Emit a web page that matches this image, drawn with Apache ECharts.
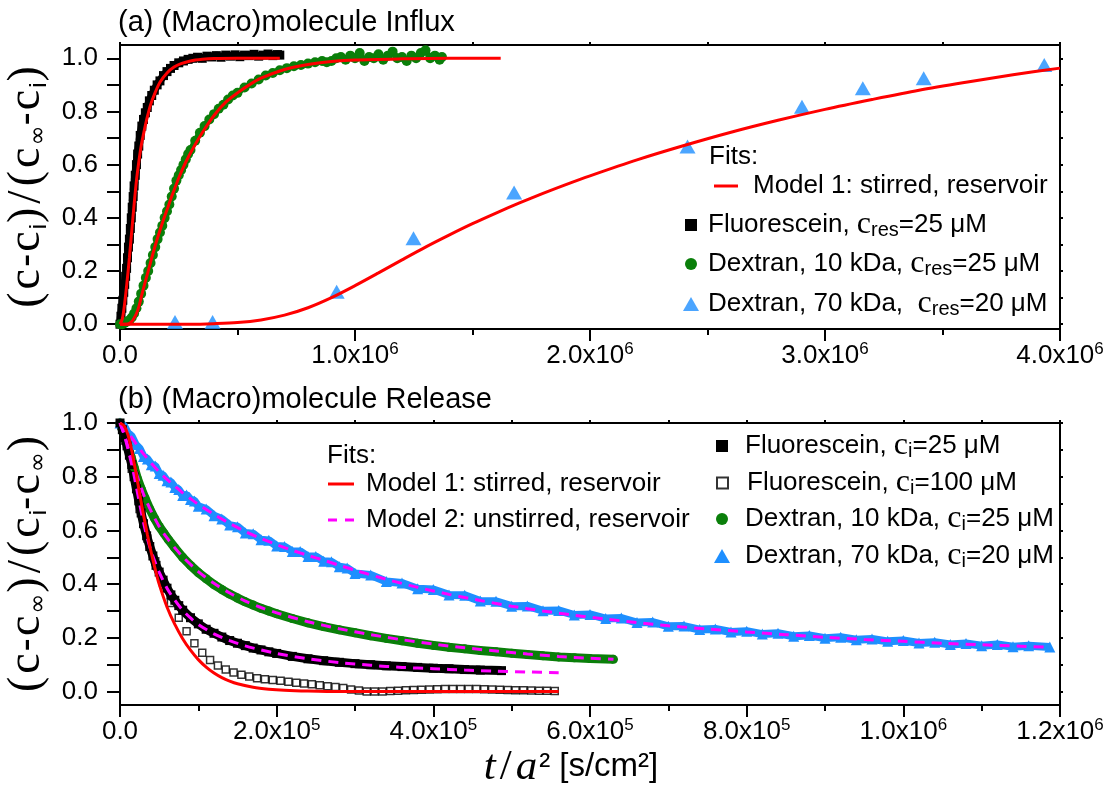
<!DOCTYPE html>
<html><head><meta charset="utf-8">
<script src="https://cdn.jsdelivr.net/npm/echarts@6/dist/echarts.min.js"></script>
<style>html,body{margin:0;padding:0;background:#fff}#c{width:1111px;height:785px}</style>
</head><body><div id="c"></div>
<script>
// ---------------- DATA ----------------
// Panel (a): t/a^2 in units of 1e6 s/cm^2
const topXTickLabels = ['0.0', '1.0x10^6', '2.0x10^6', '3.0x10^6', '4.0x10^6'];
const botXTickLabels = ['0.0', '2.0x10^5', '4.0x10^5', '6.0x10^5', '8.0x10^5', '1.0x10^6', '1.2x10^6'];
const yTickLabels = ['0.0', '0.2', '0.4', '0.6', '0.8', '1.0'];
const yTickValues = [0, 0.2, 0.4, 0.6, 0.8, 1.0];
const yMinorValues = [0, 0.1, 0.2, 0.3, 0.4, 0.5, 0.6, 0.7, 0.8, 0.9, 1.0];

const fluorInflux = [[0,0],[0.004,0.03],[0.008,0.06],[0.012,0.09],[0.016,0.12],[0.02,0.15],[0.024,0.18],[0.028,0.21],[0.032,0.25],[0.036,0.29],[0.04,0.32],[0.044,0.36],[0.048,0.4],[0.052,0.44],[0.056,0.48],[0.06,0.52],[0.065,0.56],[0.07,0.6],[0.075,0.64],[0.08,0.67],[0.086,0.71],[0.093,0.745],[0.1,0.77],[0.108,0.795],[0.116,0.815],[0.125,0.84],[0.135,0.86],[0.146,0.88],[0.158,0.9],[0.17,0.915],[0.185,0.935],[0.2,0.95],[0.215,0.962],[0.23,0.973],[0.25,0.983],[0.27,0.99],[0.29,0.996],[0.31,1.0],[0.33,1.004],[0.35,1.0],[0.37,1.008],[0.39,1.005],[0.41,1.01],[0.43,1.004],[0.45,1.012],[0.47,1.008],[0.49,1.013],[0.51,1.006],[0.53,1.012],[0.55,1.01],[0.57,1.015],[0.59,1.008],[0.61,1.012],[0.63,1.016],[0.65,1.01],[0.67,1.014],[0.68,1.012]];
const fitFluorInflux = [[0,0],[0.01,0.02],[0.02,0.08],[0.03,0.16],[0.04,0.25],[0.05,0.35],[0.06,0.45],[0.07,0.54],[0.08,0.61],[0.09,0.67],[0.1,0.715],[0.115,0.775],[0.13,0.825],[0.15,0.872],[0.17,0.91],[0.2,0.945],[0.23,0.967],[0.26,0.98],[0.3,0.99],[0.35,0.996],[0.4,0.999],[0.5,1.0],[0.68,1.0]];
const dex10Influx = [[0,0],[0.01,0],[0.02,0.005],[0.03,0.01],[0.04,0.015],[0.05,0.025],[0.06,0.04],[0.07,0.06],[0.08,0.085],[0.09,0.115],[0.1,0.145],[0.11,0.175],[0.12,0.2],[0.13,0.23],[0.14,0.26],[0.15,0.29],[0.16,0.32],[0.17,0.345],[0.18,0.37],[0.19,0.4],[0.2,0.425],[0.21,0.45],[0.22,0.48],[0.23,0.51],[0.24,0.54],[0.25,0.56],[0.26,0.58],[0.27,0.6],[0.28,0.62],[0.29,0.64],[0.3,0.655],[0.32,0.69],[0.34,0.72],[0.36,0.745],[0.38,0.77],[0.4,0.79],[0.42,0.81],[0.44,0.825],[0.46,0.845],[0.48,0.86],[0.5,0.87],[0.53,0.89],[0.56,0.905],[0.59,0.92],[0.62,0.935],[0.65,0.945],[0.68,0.955],[0.71,0.963],[0.74,0.97],[0.77,0.975],[0.8,0.98],[0.83,0.985],[0.86,0.99],[0.88,0.985],[0.9,0.99],[0.92,1.0],[0.94,1.005],[0.96,0.995],[0.98,1.01],[1.0,1.0],[1.02,1.02],[1.04,0.99],[1.06,1.005],[1.08,1.0],[1.1,1.015],[1.12,0.995],[1.14,1.01],[1.16,1.025],[1.18,1.0],[1.2,1.005],[1.22,0.99],[1.24,1.01],[1.26,1.0],[1.28,1.02],[1.3,1.03],[1.32,1.0],[1.34,1.01],[1.36,0.995],[1.37,1.005]];
const fitDex10Influx = [[0,0],[0.03,0],[0.05,0.01],[0.07,0.04],[0.08,0.065],[0.09,0.1],[0.1,0.135],[0.12,0.2],[0.14,0.265],[0.16,0.325],[0.18,0.38],[0.2,0.43],[0.22,0.48],[0.25,0.55],[0.28,0.61],[0.31,0.66],[0.35,0.72],[0.4,0.785],[0.45,0.835],[0.5,0.87],[0.55,0.9],[0.6,0.925],[0.7,0.958],[0.8,0.977],[0.9,0.988],[1.0,0.994],[1.2,0.998],[1.4,1.0],[1.62,1.0]];
const dex70Influx = [[0.234,0.008],[0.394,0.008],[0.922,0.122],[1.249,0.323],[1.677,0.495],[2.415,0.668],[2.902,0.818],[3.161,0.887],[3.42,0.925],[3.933,0.975]];
const fitDex70Influx = [[0,0],[0.3,0],[0.4,0.002],[0.5,0.006],[0.6,0.016],[0.7,0.034],[0.8,0.062],[0.9,0.1],[1.0,0.145],[1.1,0.193],[1.2,0.242],[1.3,0.29],[1.4,0.335],[1.5,0.378],[1.6,0.418],[1.7,0.456],[1.8,0.492],[1.9,0.526],[2.0,0.558],[2.2,0.618],[2.4,0.672],[2.6,0.722],[2.8,0.767],[3.0,0.808],[3.2,0.845],[3.4,0.88],[3.6,0.91],[3.8,0.938],[4.0,0.963]];

// Panel (b): t/a^2 in units of 1e5 s/cm^2
const fluor25Release = [[0,1.0],[0.03,0.975],[0.06,0.945],[0.09,0.915],[0.12,0.88],[0.15,0.845],[0.18,0.8],[0.21,0.755],[0.24,0.71],[0.27,0.665],[0.3,0.625],[0.34,0.58],[0.38,0.54],[0.42,0.505],[0.46,0.47],[0.5,0.445],[0.55,0.415],[0.6,0.385],[0.65,0.36],[0.7,0.34],[0.75,0.32],[0.8,0.303],[0.9,0.275],[1.0,0.252],[1.1,0.232],[1.2,0.217],[1.3,0.203],[1.4,0.19],[1.5,0.18],[1.6,0.171],[1.7,0.162],[1.8,0.155],[1.9,0.148],[2.0,0.142],[2.2,0.131],[2.4,0.122],[2.6,0.115],[2.8,0.109],[3.0,0.104],[3.2,0.1],[3.4,0.096],[3.6,0.093],[3.8,0.09],[4.0,0.087],[4.2,0.085],[4.4,0.082],[4.6,0.08],[4.87,0.078]];
const fluor100Release = [[0.05,0.935],[0.15,0.83],[0.25,0.68],[0.35,0.57],[0.45,0.485],[0.55,0.405],[0.65,0.33],[0.75,0.275],[0.85,0.225],[0.95,0.18],[1.05,0.145],[1.15,0.118],[1.25,0.097],[1.35,0.082],[1.45,0.071],[1.55,0.063],[1.65,0.056],[1.75,0.05],[1.85,0.046],[1.95,0.043],[2.05,0.04],[2.15,0.037],[2.25,0.033],[2.35,0.03],[2.45,0.027],[2.55,0.024],[2.65,0.02],[2.75,0.017],[2.85,0.013],[2.95,0.008],[3.05,0.004],[3.15,0.0],[3.25,0.0],[3.35,0.0],[3.45,0.002],[3.55,0.003],[3.65,0.005],[3.75,0.006],[3.85,0.007],[3.95,0.008],[4.05,0.009],[4.15,0.01],[4.25,0.01],[4.35,0.01],[4.45,0.01],[4.55,0.01],[4.65,0.009],[4.75,0.008],[4.85,0.007],[4.95,0.006],[5.05,0.005],[5.15,0.005],[5.25,0.004],[5.35,0.003],[5.45,0.003],[5.55,0.002]];
const dex10Release = [[0,1.0],[0.03,0.975],[0.06,0.95],[0.1,0.915],[0.14,0.875],[0.18,0.835],[0.22,0.795],[0.27,0.755],[0.32,0.72],[0.38,0.68],[0.44,0.645],[0.5,0.615],[0.56,0.59],[0.62,0.565],[0.7,0.535],[0.8,0.5],[0.9,0.47],[1.0,0.443],[1.1,0.42],[1.2,0.398],[1.3,0.38],[1.4,0.363],[1.5,0.348],[1.6,0.334],[1.7,0.322],[1.8,0.31],[1.9,0.3],[2.0,0.29],[2.2,0.272],[2.4,0.256],[2.6,0.242],[2.8,0.23],[3.0,0.219],[3.2,0.208],[3.4,0.198],[3.6,0.189],[3.8,0.18],[4.0,0.172],[4.2,0.165],[4.4,0.159],[4.6,0.153],[4.8,0.148],[5.0,0.143],[5.2,0.138],[5.4,0.133],[5.6,0.129],[5.8,0.126],[6.0,0.123],[6.3,0.12]];
const dex70Release = [[0,1.0],[0.05,0.99],[0.1,0.962],[0.15,0.95],[0.2,0.92],[0.25,0.905],[0.3,0.875],[0.35,0.866],[0.4,0.845],[0.45,0.84],[0.5,0.812],[0.55,0.805],[0.6,0.785],[0.65,0.78],[0.7,0.76],[0.75,0.752],[0.8,0.73],[0.85,0.732],[0.9,0.715],[0.95,0.71],[1.0,0.69],[1.1,0.68],[1.2,0.655],[1.3,0.643],[1.4,0.62],[1.5,0.614],[1.6,0.59],[1.7,0.588],[1.8,0.565],[1.9,0.563],[2.0,0.542],[2.1,0.54],[2.2,0.522],[2.3,0.522],[2.4,0.503],[2.5,0.503],[2.6,0.485],[2.7,0.483],[2.8,0.465],[2.9,0.46],[3.0,0.44],[3.2,0.434],[3.4,0.41],[3.6,0.404],[3.8,0.383],[4.0,0.38],[4.2,0.36],[4.4,0.359],[4.6,0.337],[4.8,0.336],[5.0,0.318],[5.2,0.319],[5.4,0.301],[5.6,0.302],[5.8,0.285],[6.0,0.287],[6.2,0.272],[6.4,0.274],[6.6,0.257],[6.8,0.259],[7.0,0.243],[7.2,0.244],[7.4,0.231],[7.6,0.233],[7.8,0.222],[8.0,0.225],[8.2,0.214],[8.4,0.217],[8.6,0.206],[8.8,0.209],[9.0,0.199],[9.2,0.202],[9.4,0.193],[9.6,0.196],[9.8,0.187],[10.0,0.19],[10.2,0.181],[10.4,0.184],[10.6,0.175],[10.8,0.179],[11.0,0.171],[11.2,0.175],[11.4,0.167],[11.6,0.171],[11.87,0.166]];
const fit1Release = [[0,1.0],[0.05,0.99],[0.1,0.957],[0.15,0.897],[0.2,0.82],[0.25,0.738],[0.3,0.658],[0.35,0.584],[0.4,0.516],[0.45,0.455],[0.5,0.4],[0.6,0.315],[0.7,0.25],[0.8,0.197],[0.9,0.154],[1.0,0.119],[1.1,0.091],[1.2,0.069],[1.3,0.052],[1.4,0.039],[1.5,0.029],[1.7,0.016],[1.9,0.009],[2.1,0.005],[2.4,0.002],[2.8,0.0],[5.6,0.0]];
const fit2Fluor25 = [[0,1.0],[0.05,0.96],[0.1,0.905],[0.15,0.845],[0.2,0.775],[0.25,0.7],[0.3,0.63],[0.35,0.57],[0.4,0.52],[0.45,0.48],[0.5,0.445],[0.6,0.385],[0.7,0.34],[0.8,0.303],[0.9,0.274],[1.0,0.25],[1.2,0.215],[1.4,0.19],[1.6,0.17],[1.8,0.155],[2.0,0.142],[2.4,0.122],[2.8,0.108],[3.2,0.098],[3.6,0.09],[4.0,0.085],[4.4,0.08],[4.8,0.076],[5.2,0.073],[5.6,0.07]];
const fit2Dex10 = [[0,1.0],[0.05,0.96],[0.1,0.915],[0.2,0.82],[0.3,0.735],[0.4,0.67],[0.5,0.615],[0.6,0.572],[0.7,0.535],[0.8,0.502],[1.0,0.447],[1.2,0.403],[1.4,0.367],[1.6,0.337],[1.8,0.313],[2.0,0.293],[2.4,0.26],[2.8,0.234],[3.2,0.212],[3.6,0.193],[4.0,0.177],[4.4,0.163],[4.8,0.151],[5.2,0.14],[5.6,0.131],[6.0,0.124],[6.3,0.12]];
const fit2Dex70 = [[0,1.0],[0.1,0.965],[0.2,0.925],[0.3,0.885],[0.4,0.85],[0.5,0.818],[0.6,0.79],[0.7,0.765],[0.8,0.74],[0.9,0.718],[1.0,0.697],[1.2,0.66],[1.4,0.626],[1.6,0.596],[1.8,0.57],[2.0,0.547],[2.2,0.526],[2.4,0.507],[2.6,0.489],[2.8,0.47],[3.0,0.452],[3.4,0.418],[3.8,0.388],[4.2,0.362],[4.6,0.339],[5.0,0.318],[5.4,0.3],[5.8,0.284],[6.2,0.27],[6.6,0.257],[7.0,0.245],[7.5,0.233],[8.0,0.222],[8.5,0.212],[9.0,0.202],[9.5,0.194],[10.0,0.187],[10.5,0.18],[11.0,0.174],[11.5,0.169],[11.87,0.165]];

// ---------------- CHART ----------------
const SANS = 'Liberation Sans';
const SERIF = 'Liberation Serif';
const scaleX = (arr, s) => arr.map(p => [p[0] * s, p[1]]);

const N = {
  fit1: 'Model 1: stirred, reservoir',
  fit2: 'Model 2: unstirred, reservoir',
  fT: 'Fluorescein, c_res=25 μM',
  d10T: 'Dextran, 10 kDa, c_res=25 μM',
  d70T: 'Dextran, 70 kDa,  c_res=20 μM',
  f25: 'Fluorescein, c_i=25 μM',
  f100: 'Fluorescein, c_i=100 μM',
  d10R: 'Dextran, 10 kDa, c_i=25 μM',
  d70R: 'Dextran, 70 kDa, c_i=20 μM'
};
const legendFmt = name => name.replace(/c_(res|i)=/, (m, s) => '{c|c}{s|' + s + '}=');

const tickRich = {
  m: {fontFamily: SANS, fontSize: 26, lineHeight: 30, color: '#000'},
  e: {fontFamily: SANS, fontSize: 17, lineHeight: 14, verticalAlign: 'top', color: '#000'}
};
function xFormatter(labels, step) {
  return v => {
    const t = labels[Math.round(v / step)];
    if (t === undefined) return '';
    const parts = t.split('^');
    return parts.length > 1 ? '{m|' + parts[0] + '}{e|' + parts[1] + '}' : '{m|' + parts[0] + '}';
  };
}
const yFormatter = v => {
  const i = yTickValues.findIndex(x => Math.abs(x - v) < 1e-6);
  return i >= 0 ? yTickLabels[i] : '';
};

const axisLineStyle = {show: true, onZero: false, lineStyle: {color: '#000', width: 2}};
const tickStyle = {color: '#000', width: 2};

function xAxes(grid, max, interval, labels, withName) {
  return [{
    gridIndex: grid, type: 'value', min: 0, max: max, interval: interval, position: 'bottom',
    axisLine: axisLineStyle,
    axisTick: {show: true, length: 12, lineStyle: tickStyle},
    minorTick: {show: true, splitNumber: 2, length: 6, lineStyle: tickStyle},
    splitLine: {show: false}, minorSplitLine: {show: false},
    axisLabel: {margin: 12, formatter: xFormatter(labels, interval), rich: tickRich, showMinLabel: true, showMaxLabel: true},
    name: withName ? '{i|t}{r|/}{i|a}{q|²} [s/cm²]' : '',
    nameLocation: 'middle', nameGap: 40,
    nameTextStyle: {fontFamily: SANS, fontSize: 33, color: '#000', lineHeight: 42, padding: [0, 40, 0, 0],
      rich: {i: {fontFamily: SERIF, fontStyle: 'italic', fontSize: 43, lineHeight: 42, padding: [0, 2, 0, 2]},
             r: {fontFamily: SERIF, fontSize: 43, lineHeight: 42, padding: [0, 2, 0, 2]},
             q: {fontFamily: SANS, fontSize: 33, lineHeight: 42}}}
  }, {
    gridIndex: grid, type: 'value', min: 0, max: max, interval: interval, position: 'top',
    axisLine: axisLineStyle,
    axisTick: {show: true, length: 3, lineStyle: tickStyle},
    minorTick: {show: true, splitNumber: 2, length: 3, lineStyle: tickStyle},
    splitLine: {show: false}, axisLabel: {show: false}
  }];
}
const yNameRich = {
  p: {fontFamily: SERIF, fontSize: 46, lineHeight: 48, color: '#000', padding: [0, 1, 0, 1]},
  c: {fontFamily: SERIF, fontSize: 46, lineHeight: 48, color: '#000', padding: [0, 2, 0, 2]},
  h: {fontFamily: SANS, fontSize: 40, lineHeight: 48, color: '#000'},
  sl: {fontFamily: SERIF, fontSize: 48, lineHeight: 48, color: '#000', padding: [0, 3, 0, 3]},
  s: {fontFamily: SANS, fontSize: 24, lineHeight: 22, verticalAlign: 'bottom', color: '#000'},
  o: {fontFamily: 'DejaVu Sans', fontSize: 24, lineHeight: 22, verticalAlign: 'bottom', color: '#000'}
};
function yAxes(grid, min, max, name) {
  return [{
    gridIndex: grid, type: 'value', min: min, max: max, position: 'left',
    axisLine: axisLineStyle,
    axisTick: {show: true, length: 13, lineStyle: tickStyle, customValues: yMinorValues},
    splitLine: {show: false},
    axisLabel: {margin: 22, fontFamily: SANS, fontSize: 26, color: '#000', customValues: yTickValues, formatter: yFormatter},
    name: name, nameLocation: 'middle', nameGap: 68,
    nameTextStyle: {rich: yNameRich, lineHeight: 48}
  }, {
    gridIndex: grid, type: 'value', min: min, max: max, position: 'right',
    axisLine: axisLineStyle,
    axisTick: {show: true, length: 3, lineStyle: tickStyle, customValues: yMinorValues},
    splitLine: {show: false}, axisLabel: {show: false}
  }];
}

const RED = '#ff0000', MAG = '#ff00ff', GREEN = '#0a7f0a', BLUE = '#1e8fff';

function dataLine(name, data, xi, yi, symbol, size, color, width, extra) {
  return Object.assign({
    name: name, type: 'line', xAxisIndex: xi, yAxisIndex: yi, data: data,
    symbol: symbol, symbolSize: size, showSymbol: true, showAllSymbol: true,
    itemStyle: {color: color}, lineStyle: {color: color, width: width},
    animation: false, silent: true, clip: true
  }, extra || {});
}
function fitLine(name, data, xi, yi, color, dashed) {
  return {
    name: name, type: 'line', xAxisIndex: xi, yAxisIndex: yi, data: data,
    symbol: 'none', smooth: 0.3, itemStyle: {color: color},
    lineStyle: {color: color, width: 3, type: dashed ? [10, 7] : 'solid'},
    animation: false, silent: true, z: 5
  };
}

const legendText = {
  fontFamily: SANS, fontSize: 26, color: '#000', lineHeight: 30,
  rich: {
    c: {fontFamily: SERIF, fontSize: 32, lineHeight: 30, color: '#000'},
    s: {fontFamily: SANS, fontSize: 20, lineHeight: 14, verticalAlign: 'bottom', color: '#000'}
  }
};
function legend(name, left, cy, icon, w, h, pad, itemStyle) {
  return {
    data: [{name: name, icon: icon, itemStyle: itemStyle}],
    left: left, top: cy - 15, orient: 'vertical', padding: 0,
    itemWidth: w, itemHeight: h, selectedMode: false,
    formatter: legendFmt,
    textStyle: Object.assign({}, legendText, {padding: [0, 0, 0, pad]})
  };
}

const option = {
  backgroundColor: '#fff',
  animation: false,
  title: [
    {text: '(a) (Macro)molecule Influx', left: 118, top: 8, padding: 0,
     textStyle: {fontFamily: SANS, fontSize: 29, fontWeight: 'normal', color: '#000'}},
    {text: '(b) (Macro)molecule Release', left: 118, top: 385, padding: 0,
     textStyle: {fontFamily: SANS, fontSize: 29, fontWeight: 'normal', color: '#000'}}
  ],
  grid: [
    {left: 120, top: 45, width: 940, height: 284, show: false, outerBoundsMode: 'none', containLabel: false},
    {left: 120, top: 423, width: 940, height: 282, show: false, outerBoundsMode: 'none', containLabel: false}
  ],
  xAxis: [].concat(xAxes(0, 4e6, 1e6, topXTickLabels, false), xAxes(1, 1.2e6, 2e5, botXTickLabels, true)),
  yAxis: [].concat(
    yAxes(0, -0.018, 1.05, '{p|(}{c|c}{h|-}{c|c}{s|i}{p|)}{sl|/}{p|(}{c|c}{o|∞}{h|-}{c|c}{s|i}{p|)}'),
    yAxes(1, -0.05, 1.0, '{p|(}{c|c}{h|-}{c|c}{o|∞}{p|)}{sl|/}{p|(}{c|c}{s|i}{h|-}{c|c}{o|∞}{p|)}')
  ),
  legend: [
    legend(N.fit1, 714, 186, 'rect', 24, 3, 10, {color: RED}),
    legend(N.fT, 685, 224, 'rect', 12, 12, 6, {color: '#000'}),
    legend(N.d10T, 685, 263, 'circle', 12, 12, 6, {color: GREEN}),
    legend(N.d70T, 683, 303, 'triangle', 16, 14, 4, {color: BLUE}),
    legend(N.fit1, 328, 484, 'rect', 26, 3, 7, {color: RED}),
    legend(N.fit2, 328, 520, 'path://M0,0h9v3h-9zM17,0h9v3h-9z', 26, 3, 7, {color: MAG}),
    legend(N.f25, 716, 445, 'rect', 12, 12, 12, {color: '#000'}),
    legend(N.f100, 716, 482, 'rect', 11, 11, 14, {color: '#fff', borderColor: '#000', borderWidth: 2}),
    legend(N.d10R, 716, 518, 'circle', 12, 12, 12, {color: GREEN}),
    legend(N.d70R, 714, 555, 'triangle', 16, 14, 10, {color: BLUE})
  ],
  graphic: [
    {type: 'text', left: 709, top: 144, style: {text: 'Fits:', font: '26px "Liberation Sans"', fill: '#000'}},
    {type: 'text', left: 327, top: 443, style: {text: 'Fits:', font: '26px "Liberation Sans"', fill: '#000'}}
  ],
  series: [
    // panel (a)
    dataLine(N.fT, scaleX(fluorInflux, 1e6), 0, 0, 'rect', 9, '#000', 8),
    dataLine(N.d10T, scaleX(dex10Influx, 1e6), 0, 0, 'circle', 10, GREEN, 6),
    {name: N.d70T, type: 'scatter', xAxisIndex: 0, yAxisIndex: 0, data: scaleX(dex70Influx, 1e6),
     symbol: 'triangle', symbolSize: [16, 14], itemStyle: {color: BLUE}, animation: false, silent: true},
    fitLine(N.fit1, scaleX(fitFluorInflux, 1e6), 0, 0, RED, false),
    fitLine(N.fit1, scaleX(fitDex10Influx, 1e6), 0, 0, RED, false),
    fitLine(N.fit1, scaleX(fitDex70Influx, 1e6), 0, 0, RED, false),
    // panel (b)
    dataLine(N.d70R, scaleX(dex70Release, 1e5), 2, 2, 'triangle', 11, BLUE, 8),
    dataLine(N.d10R, scaleX(dex10Release, 1e5), 2, 2, 'circle', 9, GREEN, 9),
    dataLine(N.f25, scaleX(fluor25Release, 1e5), 2, 2, 'rect', 9, '#000', 9),
    {name: N.f100, type: 'scatter', xAxisIndex: 2, yAxisIndex: 2, data: scaleX(fluor100Release, 1e5),
     symbol: 'rect', symbolSize: 7, itemStyle: {color: '#fff', borderColor: '#000', borderWidth: 1.5},
     animation: false, silent: true},
    fitLine(N.fit2, scaleX(fit2Dex70, 1e5), 2, 2, MAG, true),
    fitLine(N.fit2, scaleX(fit2Dex10, 1e5), 2, 2, MAG, true),
    fitLine(N.fit2, scaleX(fit2Fluor25, 1e5), 2, 2, MAG, true),
    fitLine(N.fit1, scaleX(fit1Release, 1e5), 2, 2, RED, false)
  ]
};

const chart = echarts.init(document.getElementById('c'), null, {renderer: 'canvas'});
chart.setOption(option);
</script></body></html>
